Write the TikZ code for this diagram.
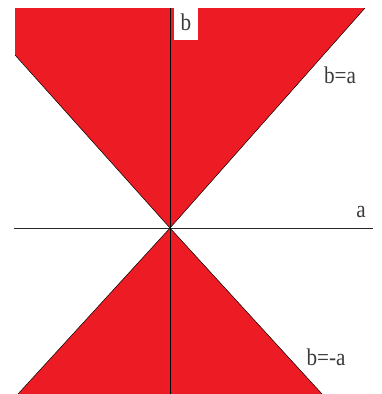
\documentclass[tikz,border=0pt]{standalone}
\usepackage{fontspec}
\setmainfont{Liberation Serif}
\definecolor{paintred}{HTML}{ED1C24}
\definecolor{labelgray}{HTML}{3A3A3A}
\begin{document}
\begin{tikzpicture}[x=1pt,y=-1pt,
  region/.style={fill=paintred,draw=black,line width=0.5pt},
  axis/.style={draw=black!85,line width=0.9pt},
  lbl/.style={text=labelgray,font=\fontsize{24}{26}\selectfont,inner sep=1pt,xscale=0.88}]
\useasboundingbox (0,0) rectangle (381,394);
\coordinate (O) at (170,228);
\coordinate (tl) at (15,8);
\coordinate (ml) at (15,55);
\coordinate (tr) at (365,8);
\coordinate (bl) at (18,394);
\coordinate (br) at (322,394);
\fill[paintred] (tl) -- (ml) -- (O) -- (tr) -- cycle;
\draw[black,line width=0.5pt] (ml) -- (O) -- (tr);
\fill[paintred] (O) -- (bl) -- (br) -- cycle;
\draw[black,line width=0.5pt] (bl) -- (O) -- (br);
\coordinate (xl) at (14,228);
\coordinate (xr) at (373,228);
\coordinate (yt) at (170,8);
\coordinate (yb) at (170,394);
\draw[axis] (xl) -- (xr);
\draw[black,line width=0.8pt] (yt) -- (yb);
\node[fill=white,minimum width=24pt,minimum height=32pt,inner sep=0pt,anchor=north west] (bbox) at (174,8) {};
\node[lbl] (b) at (186,22) {b};
\node[lbl] (beqa) at (340,75) {b=a};
\node[lbl] (a) at (361,212) {a};
\node[lbl] (beqma) at (326,357) {b=-a};
\end{tikzpicture}
\end{document}
